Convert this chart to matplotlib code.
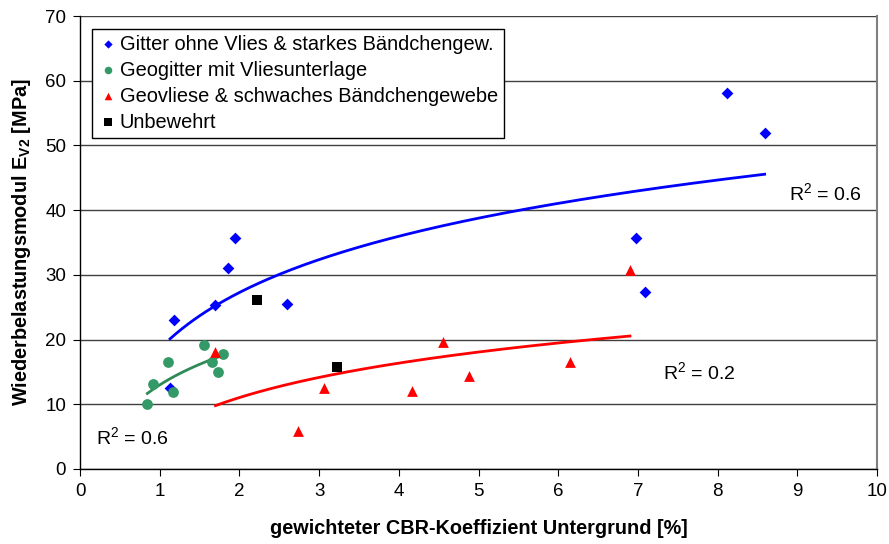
import numpy as np
import matplotlib
matplotlib.use("Agg")
import matplotlib.pyplot as plt

plt.rcParams['font.family'] = ['Liberation Sans', 'DejaVu Sans']
plt.rcParams['mathtext.fontset'] = 'custom'
plt.rcParams['mathtext.rm'] = 'Liberation Sans'
plt.rcParams['mathtext.bf'] = 'Liberation Sans:bold'

# Data
gitter_x = [8.12, 8.59, 6.98, 7.09, 1.94, 1.86, 1.69, 1.18, 1.13, 2.60]
gitter_y = [58.1, 51.9, 35.7, 27.4, 35.7, 31.1, 25.3, 23.0, 12.5, 25.5]
geo_x = [0.845, 0.92, 1.11, 1.17, 1.55, 1.65, 1.79, 1.73]
geo_y = [10.1, 13.2, 16.5, 11.9, 19.2, 16.6, 17.7, 15.0]
vlies_x = [1.70, 2.73, 3.06, 4.16, 4.56, 4.88, 6.15, 6.90]
vlies_y = [18.0, 5.8, 12.5, 12.1, 19.6, 14.3, 16.5, 30.8]
unbew_x = [2.22, 3.23]
unbew_y = [26.1, 15.7]

labels = ["Gitter ohne Vlies & starkes Bändchengew.",
          "Geogitter mit Vliesunterlage",
          "Geovliese & schwaches Bändchengewebe",
          "Unbewehrt"]
r2_texts = ["R$^2$ = 0.6", "R$^2$ = 0.6", "R$^2$ = 0.2"]

fig = plt.figure(figsize=(8.89, 5.44), dpi=100)
ax = fig.add_axes([0.090, 0.138, 0.8965, 0.8325])

ax.set_xlim(0, 10)
ax.set_ylim(0, 70)
ax.set_xticks(range(0, 11))
ax.set_yticks(range(0, 71, 10))
ax.yaxis.grid(True, color='#404040', linewidth=1.0)
ax.set_axisbelow(True)
ax.spines['top'].set_visible(False)
ax.spines['right'].set_color('#808080')
ax.spines['right'].set_linewidth(1.5)
ax.spines['left'].set_linewidth(1.0)
ax.spines['bottom'].set_linewidth(1.0)
ax.tick_params(direction='out', length=5, labelsize=13.5, pad=5)

def logfit(x, y):
    x = np.asarray(x); y = np.asarray(y)
    a, b = np.polyfit(np.log(x), y, 1)
    xs = np.linspace(x.min(), x.max(), 200)
    return xs, a * np.log(xs) + b

for xs_, ys_, col in [(gitter_x, gitter_y, '#0000FF'),
                      (geo_x, geo_y, '#2E8B57'),
                      (vlies_x, vlies_y, '#FF0000')]:
    fx, fy = logfit(xs_, ys_)
    ax.plot(fx, fy, color=col, linewidth=2, zorder=2)

ax.scatter(gitter_x, gitter_y, marker='D', s=36, color='#0000FF', label=labels[0], zorder=3, linewidths=0)
ax.scatter(geo_x, geo_y, marker='o', s=60, color='#339966', label=labels[1], zorder=3, linewidths=0)
ax.scatter(vlies_x, vlies_y, marker='^', s=60, color='#FF0000', label=labels[2], zorder=3, linewidths=0)
ax.scatter(unbew_x, unbew_y, marker='s', s=55, color='#000000', label=labels[3], zorder=3, linewidths=0)

ax.text(9.35, 42.5, r2_texts[0], fontsize=14, ha='center', va='center')
ax.text(0.2, 4.8, r2_texts[1], fontsize=14, ha='left', va='center')
ax.text(7.77, 14.8, r2_texts[2], fontsize=14, ha='center', va='center')

ax.set_xlabel("gewichteter CBR-Koeffizient Untergrund [%]", fontsize=14.3, fontweight='bold', labelpad=14)
ax.set_ylabel(r"Wiederbelastungsmodul E$_{\mathbf{V2}}$ [MPa]", fontsize=14.3, fontweight='bold', labelpad=9)

leg = ax.legend(loc='upper left', bbox_to_anchor=(0.015, 0.972), fontsize=14.4,
                frameon=True, fancybox=False, edgecolor='black', framealpha=1,
                handletextpad=0.1, handlelength=1.0, markerscale=0.7,
                labelspacing=0.35, borderpad=0.3, borderaxespad=0)
leg.get_frame().set_linewidth(1.0)

fig.savefig("out.png", dpi=100)
